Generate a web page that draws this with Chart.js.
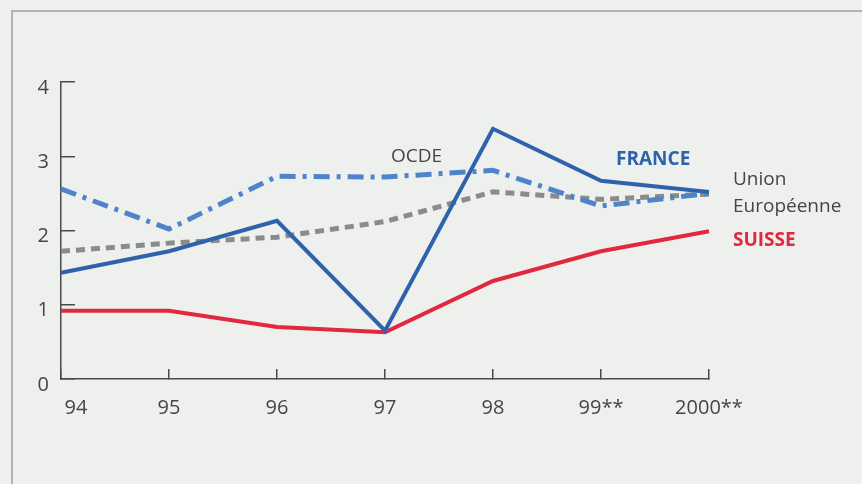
<!DOCTYPE html>
<html>
<head>
<meta charset="utf-8">
<script src="https://cdn.jsdelivr.net/npm/chart.js@4"></script>
<style>
  html, body { margin: 0; padding: 0; background: #eef0ee; }
  #wrap { width: 862px; height: 484px; position: relative; }
</style>
</head>
<body>
<div id="wrap"><canvas id="chart"></canvas></div>
<script>
// Categories and series
const years = ['94', '95', '96', '97', '98', '99**', '2000**']
const france = [1.43, 1.72, 2.13, 0.65, 3.37, 2.67, 2.52]
const ocde = [2.56, 2.02, 2.73, 2.72, 2.81, 2.33, 2.50]
const unionEu = [1.72, 1.83, 1.91, 2.12, 2.52, 2.42, 2.49]
const suisse = [0.92, 0.92, 0.70, 0.63, 1.32, 1.72, 1.99]
const yTicks = [0, 1, 2, 3, 4]

const FONT = '"Open Sans", "Noto Sans", sans-serif'
const TEXT = '#454545'
const AXIS = '#4a4a4a'

// page frame + background
const framePlugin = {
  id: 'frame',
  beforeDraw(chart) {
    const ctx = chart.ctx
    ctx.save()
    ctx.fillStyle = '#eef0ee'
    ctx.fillRect(0, 0, chart.width, chart.height)
    ctx.strokeStyle = '#9c9e9c'
    ctx.lineWidth = 1.5
    ctx.beginPath()
    ctx.moveTo(12, chart.height)
    ctx.lineTo(12, 11)
    ctx.lineTo(chart.width, 11)
    ctx.stroke()
    ctx.restore()
  },
}

// x labels (first one sits right of the axis) and series names
const labelPlugin = {
  id: 'labels',
  afterDraw(chart) {
    const ctx = chart.ctx
    const x = chart.scales.x
    const y = chart.scales.y
    ctx.save()
    ctx.textBaseline = 'middle'
    ctx.textAlign = 'center'
    ctx.font = '20px ' + FONT
    ctx.fillStyle = TEXT
    years.forEach((lab, i) => {
      ctx.fillText(lab, x.getPixelForValue(i) + (i === 0 ? 15 : 0), 408)
    })

    ctx.textAlign = 'left'
    ctx.font = '19px ' + FONT
    ctx.fillStyle = TEXT
    ctx.fillText('OCDE', 391, y.getPixelForValue(2.99))
    ctx.fillText('Union', 733, y.getPixelForValue(2.68))
    ctx.fillText('Européenne', 733, y.getPixelForValue(2.32))

    ctx.font = 'bold 19px ' + FONT
    ctx.fillStyle = '#2e62ad'
    ctx.fillText('FRANCE', 616, y.getPixelForValue(2.95))
    ctx.fillStyle = '#e2283e'
    ctx.fillText('SUISSE', 733, y.getPixelForValue(1.86))
    ctx.restore()
  },
}

new Chart(document.getElementById('chart'), {
  type: 'line',
  data: {
    labels: years,
    datasets: [
      {
        label: 'FRANCE',
        data: france,
        borderColor: '#2e62ad',
        borderWidth: 4,
        order: 1,
      },
      {
        label: 'SUISSE',
        data: suisse,
        borderColor: '#e2283e',
        borderWidth: 4,
        order: 2,
      },
      {
        label: 'OCDE',
        data: ocde,
        borderColor: '#4f84cb',
        borderWidth: 5,
        borderDash: [16, 7, 4, 7],
        order: 3,
      },
      {
        label: 'Union Européenne',
        data: unionEu,
        borderColor: '#8a8c8a',
        borderWidth: 5,
        borderDash: [9, 6],
        order: 4,
      },
    ],
  },
  options: {
    responsive: true,
    maintainAspectRatio: false,
    animation: false,
    events: [],
    layout: { padding: { left: 0, top: 82, right: 153, bottom: 0 } },
    elements: {
      point: { radius: 0 },
      line: { tension: 0, borderCapStyle: 'butt', borderJoinStyle: 'miter', fill: false },
    },
    plugins: {
      legend: { display: false },
      tooltip: { enabled: false },
    },
    scales: {
      x: {
        offset: false,
        grid: { drawOnChartArea: false, drawTicks: true, tickLength: -10, color: AXIS, lineWidth: 1.5 },
        border: { display: true, color: AXIS, width: 1.5 },
        ticks: { display: false },
        afterFit(scale) { scale.height = 105 },
      },
      y: {
        min: 0,
        max: 4,
        afterBuildTicks(scale) { scale.ticks = yTicks.map(v => ({ value: v })) },
        grid: { drawOnChartArea: false, drawTicks: true, tickLength: -14, color: AXIS, lineWidth: 1.5 },
        border: { display: true, color: AXIS, width: 1.5 },
        ticks: {
          padding: 26,
          labelOffset: 6,
          color: TEXT,
          font: { family: FONT, size: 20 },
        },
        afterFit(scale) { scale.width = 61 },
      },
    },
  },
  plugins: [framePlugin, labelPlugin],
})
</script>
</body>
</html>
